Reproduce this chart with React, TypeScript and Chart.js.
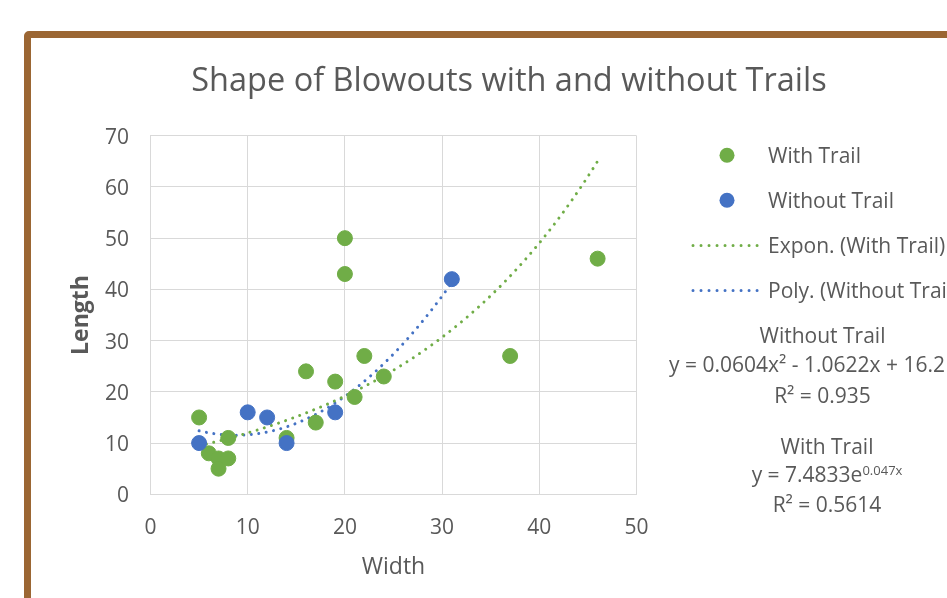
import { useEffect, useRef } from "react";
import { Chart, registerables } from "chart.js";

Chart.register(...registerables);

// ---------- data ----------
const chartTitle = "Shape of Blowouts with and without Trails";
const xAxisTitle = "Width";
const yAxisTitle = "Length";
const xTickLabels = ["0", "10", "20", "30", "40", "50"];
const yTickLabels = ["0", "10", "20", "30", "40", "50", "60", "70"];

const withTrailX = [5, 6, 7, 7, 8, 8, 14, 16, 17, 19, 20, 20, 21, 22, 24, 37, 46];
const withTrailY = [15, 8, 7, 5, 7, 11, 11, 24, 14, 22, 50, 43, 19, 27, 23, 27, 46];
const withoutTrailX = [5, 10, 12, 14, 19, 31];
const withoutTrailY = [10, 16, 15, 10, 16, 42];

// trendline coefficients as printed on the chart
const expCoef = [7.4833, 0.047]; // y = a * e^(b x)
const polyCoef = [16.2, -1.0622, 0.0604]; // y = c0 + c1 x + c2 x^2

const legendLabels = ["With Trail", "Without Trail", "Expon. (With Trail)", "Poly. (Without Trail)"];
const polyLabel = ["Without Trail", "y = 0.0604x² - 1.0622x + 16.2", "R² = 0.935"];
const expLabel = ["With Trail", "y = 7.4833e", "0.047x", "R² = 0.5614"];

// ---------- styles ----------
const GREEN = "#70AD47";
const BLUE = "#4472C4";
const TEXT = "#595959";
const GRID = "#D9D9D9";
const FONT = "'Open Sans', sans-serif";

function trendPoints(xs: number[], f: (x: number) => number) {
  const lo = Math.min(...xs);
  const hi = Math.max(...xs);
  const pts: { x: number; y: number }[] = [];
  const n = 120;
  for (let i = 0; i <= n; i++) {
    const x = lo + ((hi - lo) * i) / n;
    pts.push({ x, y: f(x) });
  }
  return pts;
}

const overlayPlugin = {
  id: "overlay",
  afterDraw(chart: any) {
    const ctx: CanvasRenderingContext2D = chart.ctx;
    ctx.save();
    ctx.fillStyle = TEXT;
    ctx.textBaseline = "alphabetic";

    // title
    ctx.font = `32.5px ${FONT}`;
    ctx.textAlign = "center";
    ctx.fillText(chartTitle, 509, 91);

    // legend
    ctx.font = `21px ${FONT}`;
    ctx.textAlign = "left";
    const textX = 768;
    const baselines = [163.3, 208.3, 253.3, 298.3];
    const markerColors = [GREEN, BLUE];
    for (let i = 0; i < 2; i++) {
      ctx.beginPath();
      ctx.fillStyle = markerColors[i];
      ctx.arc(727, baselines[i] - 8, 7.5, 0, Math.PI * 2);
      ctx.fill();
    }
    const lineColors = [GREEN, BLUE];
    for (let i = 0; i < 2; i++) {
      ctx.beginPath();
      ctx.strokeStyle = lineColors[i];
      ctx.lineWidth = 3;
      ctx.lineCap = "round";
      ctx.setLineDash([0.01, 8]);
      const y = baselines[i + 2] - 7.8;
      ctx.moveTo(693, y);
      ctx.lineTo(758, y);
      ctx.stroke();
    }
    ctx.setLineDash([]);
    ctx.fillStyle = TEXT;
    legendLabels.forEach((t, i) => ctx.fillText(t, textX, baselines[i]));

    // poly trendline label
    ctx.textAlign = "center";
    ctx.fillText(polyLabel[0], 822.5, 343.3);
    ctx.textAlign = "left";
    ctx.fillText(polyLabel[1], 669, 371.7);
    ctx.textAlign = "center";
    ctx.fillText(polyLabel[2], 822.5, 402.7);

    // exponential trendline label
    ctx.fillText(expLabel[0], 827, 454.3);
    const mainW = ctx.measureText(expLabel[1]).width;
    ctx.font = `13px ${FONT}`;
    const supW = ctx.measureText(expLabel[2]).width;
    const startX = 827 - (mainW + supW) / 2;
    ctx.textAlign = "left";
    ctx.fillText(expLabel[2], startX + mainW, 475);
    ctx.font = `21px ${FONT}`;
    ctx.fillText(expLabel[1], startX, 482.3);
    ctx.textAlign = "center";
    ctx.fillText(expLabel[3], 827, 511.7);

    ctx.restore();
  },
};

export default function App() {
  const ref = useRef<HTMLCanvasElement | null>(null);

  useEffect(() => {
    if (!ref.current) return;
    const withTrail = withTrailX.map((x, i) => ({ x, y: withTrailY[i] }));
    const withoutTrail = withoutTrailX.map((x, i) => ({ x, y: withoutTrailY[i] }));
    const expTrend = trendPoints(withTrailX, (x) => expCoef[0] * Math.exp(expCoef[1] * x));
    const polyTrend = trendPoints(withoutTrailX, (x) => polyCoef[0] + polyCoef[1] * x + polyCoef[2] * x * x);

    const dotted = {
      showLine: true,
      pointRadius: 0,
      borderWidth: 3,
      borderCapStyle: "round" as const,
      borderDash: [0.01, 7.5],
      fill: false,
      tension: 0,
    };

    const chart = new Chart(ref.current, {
      type: "scatter",
      data: {
        datasets: [
          {
            label: legendLabels[1],
            data: withoutTrail,
            backgroundColor: BLUE,
            borderColor: BLUE,
            pointRadius: 7.5,
            pointBorderWidth: 1,
          },
          {
            label: legendLabels[0],
            data: withTrail,
            backgroundColor: GREEN,
            borderColor: GREEN,
            pointRadius: 7.5,
            pointBorderWidth: 1,
          },
          { label: legendLabels[2], data: expTrend, borderColor: GREEN, ...dotted },
          { label: legendLabels[3], data: polyTrend, borderColor: BLUE, ...dotted },
        ],
      },
      options: {
        animation: false,
        responsive: false,
        maintainAspectRatio: false,
        devicePixelRatio: 1,
        layout: { padding: { left: 0, top: 135.7, right: 310.5, bottom: 0 } },
        plugins: {
          legend: { display: false },
          title: { display: false },
          tooltip: { enabled: false },
        },
        scales: {
          x: {
            type: "linear",
            min: 0,
            max: 50,
            ticks: {
              stepSize: 10,
              padding: 21.5,
              color: TEXT,
              font: { family: FONT, size: 21 },
              callback: (_v: any, i: number) => xTickLabels[i],
            },
            grid: { color: GRID, lineWidth: 1, drawTicks: false },
            border: { color: GRID },
            title: {
              display: true,
              text: xAxisTitle,
              color: TEXT,
              font: { family: FONT, size: 23 },
              padding: { top: 0, bottom: 16.5 },
            },
            afterFit: (s: any) => {
              s.height = 103.7;
            },
          },
          y: {
            type: "linear",
            min: 0,
            max: 70,
            ticks: {
              stepSize: 10,
              padding: 21.5,
              labelOffset: 2,
              color: TEXT,
              font: { family: FONT, size: 21 },
              callback: (_v: any, i: number) => yTickLabels[i],
            },
            grid: { color: GRID, lineWidth: 1, drawTicks: false },
            border: { color: GRID },
            title: {
              display: true,
              text: yAxisTitle,
              color: TEXT,
              font: { family: FONT, size: 23, weight: "bold" },
              padding: { top: 68, bottom: 0 },
            },
            afterFit: (s: any) => {
              s.width = 150.5;
            },
          },
        },
      } as any,
      plugins: [overlayPlugin],
    });
    return () => chart.destroy();
  }, []);

  return (
    <div
      style={{
        position: "fixed",
        left: 0,
        top: 0,
        width: 947,
        height: 598,
        overflow: "hidden",
        background: "#ffffff",
      }}
    >
      <div
        style={{
          position: "absolute",
          left: 24,
          top: 31,
          width: 1000,
          height: 700,
          border: "7.5px solid #9B6633",
          borderRadius: 5,
          boxSizing: "border-box",
        }}
      />
      <canvas
        ref={ref}
        width={947}
        height={598}
        style={{ position: "absolute", left: 0, top: 0, width: 947, height: 598 }}
      />
    </div>
  );
}
